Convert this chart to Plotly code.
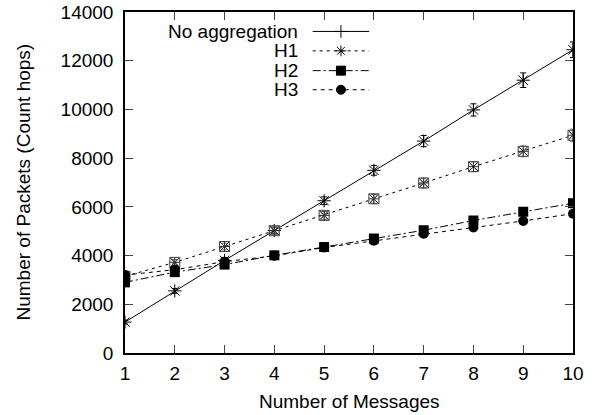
import plotly.graph_objects as go

messages = [1, 2, 3, 4, 5, 6, 7, 8, 9, 10]
no_agg = [1270, 2550, 3800, 5030, 6250, 7500, 8700, 9980, 11200, 12450]
no_agg_err = [80, 100, 120, 140, 160, 200, 230, 250, 300, 320]
h1 = [3150, 3720, 4370, 5020, 5650, 6330, 6980, 7650, 8280, 8940]
h1_err = [100, 120, 140, 150, 160, 180, 200, 200, 220, 250]
h2 = [2900, 3320, 3630, 4010, 4350, 4700, 5040, 5440, 5800, 6150]
h3 = [3200, 3420, 3750, 3990, 4330, 4610, 4900, 5150, 5420, 5720]

series_names = ["No aggregation", "H1", "H2", "H3"]
tick_vals = [0, 2000, 4000, 6000, 8000, 10000, 12000, 14000]
tick_text = ["0", "2000", "4000", "6000", "8000", "10000", "12000", "14000"]

FONT = "Liberation Sans, Arial, Helvetica, sans-serif"
FS = 19
fig = go.Figure()

fig.add_trace(go.Scatter(
    x=messages, y=no_agg, mode="lines+markers", showlegend=False,
    line=dict(color="black", width=1),
    marker=dict(symbol="asterisk-open", size=11, line=dict(color="black", width=1)),
    error_y=dict(type="data", array=no_agg_err, color="black", thickness=1, width=3)))
fig.add_trace(go.Scatter(
    x=messages, y=h1, mode="lines+markers", showlegend=False,
    line=dict(color="black", width=1, dash="3px,4px"),
    marker=dict(symbol="square-x-open", size=10, color="#444", line=dict(color="#444", width=1)),
    error_y=dict(type="data", array=h1_err, color="#666", thickness=1, width=3)))
fig.add_trace(go.Scatter(
    x=messages, y=h1, mode="markers", showlegend=False,
    marker=dict(symbol="asterisk-open", size=9, color="#333", line=dict(color="#333", width=1))))
fig.add_trace(go.Scatter(
    x=messages, y=h2, mode="lines+markers", showlegend=False,
    line=dict(color="black", width=1, dash="8px,3px,2px,3px"),
    marker=dict(symbol="square", size=10, color="black")))
fig.add_trace(go.Scatter(
    x=messages, y=h3, mode="lines+markers", showlegend=False,
    line=dict(color="black", width=1, dash="4px,4px"),
    marker=dict(symbol="circle", size=10, color="black")))

# gnuplot-style key: labels right-aligned, samples to the right
key_y = [0.943, 0.886, 0.828, 0.772]
key_dash = ["solid", "3px,4px", "8px,3px,2px,3px", "4px,4px"]
key_sym = ["cross-thin-open", "asterisk-open", "square", "circle"]
for name, ky, dsh, sym in zip(series_names, key_y, key_dash, key_sym):
    fig.add_trace(go.Scatter(
        x=[0.419, 0.545], y=[ky, ky], xaxis="x2", yaxis="y2", mode="lines",
        line=dict(color="black", width=1, dash=dsh), showlegend=False, hoverinfo="skip"))
    fig.add_trace(go.Scatter(
        x=[0.482], y=[ky], xaxis="x2", yaxis="y2", mode="markers",
        marker=dict(symbol=sym, size=9, color="black", line=dict(color="black", width=1)),
        showlegend=False, hoverinfo="skip"))
    fig.add_annotation(x=0.39, y=ky, xref="x2", yref="y2", text=name, showarrow=False,
                       xanchor="right", yanchor="middle", font=dict(size=FS, color="black", family=FONT))

# axis titles
fig.add_annotation(x=0.5, y=0, xref="paper", yref="paper", text="Number of Messages",
                   showarrow=False, xanchor="center", yanchor="middle", yshift=-48,
                   font=dict(size=FS, color="black", family=FONT))
fig.add_annotation(x=0, y=0.5, xref="paper", yref="paper", text="Number of Packets (Count hops)",
                   showarrow=False, xanchor="center", yanchor="middle", xshift=-102, textangle=-90,
                   font=dict(size=FS, color="black", family=FONT))

fig.update_layout(
    width=599, height=415,
    margin=dict(l=125, r=26, t=12, b=62),
    paper_bgcolor="white", plot_bgcolor="white",
    font=dict(family=FONT, size=FS, color="black"),
    xaxis=dict(range=[1, 10], tickvals=messages, ticks="inside", ticklen=8, tickwidth=1,
               showline=True, linecolor="black", linewidth=1.5, mirror="ticks",
               showgrid=False, zeroline=False, ticklabelstandoff=2, automargin=False),
    yaxis=dict(range=[0, 14000], tickvals=tick_vals, ticktext=tick_text, ticks="inside",
               ticklen=8, tickwidth=1,
               showline=True, linecolor="black", linewidth=1.5, mirror="ticks",
               showgrid=False, zeroline=False, ticklabelstandoff=6, automargin=False),
    xaxis2=dict(range=[0, 1], overlaying="x", visible=False, fixedrange=True),
    yaxis2=dict(range=[0, 1], overlaying="y", visible=False, fixedrange=True),
)

fig.write_html("out.html")
